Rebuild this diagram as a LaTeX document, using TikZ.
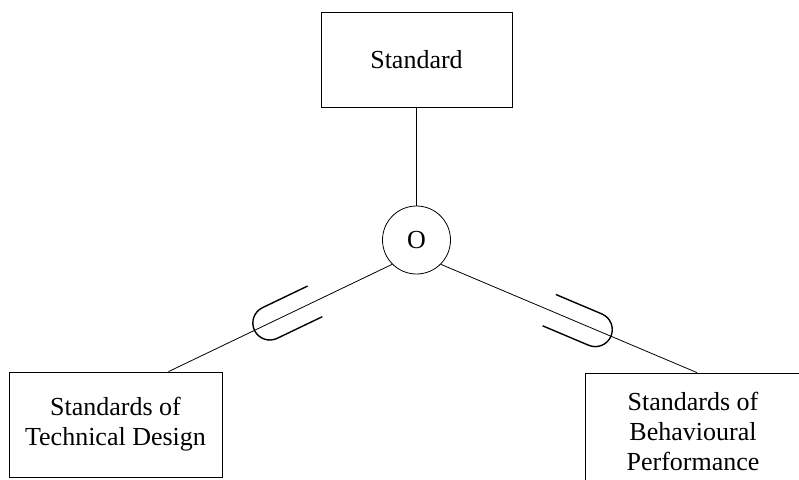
\documentclass[tikz,border=0pt]{standalone}
\usepackage{fontspec}
\setmainfont{Liberation Serif}
\usetikzlibrary{decorations.markings}
\begin{document}
\begin{tikzpicture}[x=1pt,y=-1pt,
  box/.style={draw, line width=0.8pt, rectangle, align=center,
    font=\fontsize{26}{30}\selectfont, inner sep=0pt},
  conn/.style={line width=0.8pt},
  clipmark/.style={postaction={decorate},
    decoration={markings, mark=at position #1 with {
      \draw[line width=1.4pt] (-50,17) -- (0,17)
        arc[start angle=90,end angle=-90,radius=17] -- (-50,-17);}}}
]
\useasboundingbox (0,0) rectangle (799,479);
\clip (0,0) rectangle (799,479);
\node[box, minimum width=191pt, minimum height=95pt] (std) at (416.5,59.5) {Standard};
\node[box, minimum width=213pt, minimum height=105pt] (tech) at (115.5,424.5) {Standards of\\Technical Design};
\node[box, minimum width=216pt, minimum height=116pt] (beh) at (693,431) {Standards of\\Behavioural\\Performance};
\node[draw, circle, minimum size=68pt, inner sep=0pt, line width=0.8pt,
  font=\fontsize{26}{30}\selectfont] (o) at (416.5,240) {O};
\draw[conn] (std.south) -- (o.north);
\draw[conn, clipmark=0.547] (o.-135) -- ([xshift=53pt]tech.north);
\draw[conn, clipmark=0.603] (o.-45) -- ([xshift=4pt]beh.north);
\end{tikzpicture}
\end{document}
